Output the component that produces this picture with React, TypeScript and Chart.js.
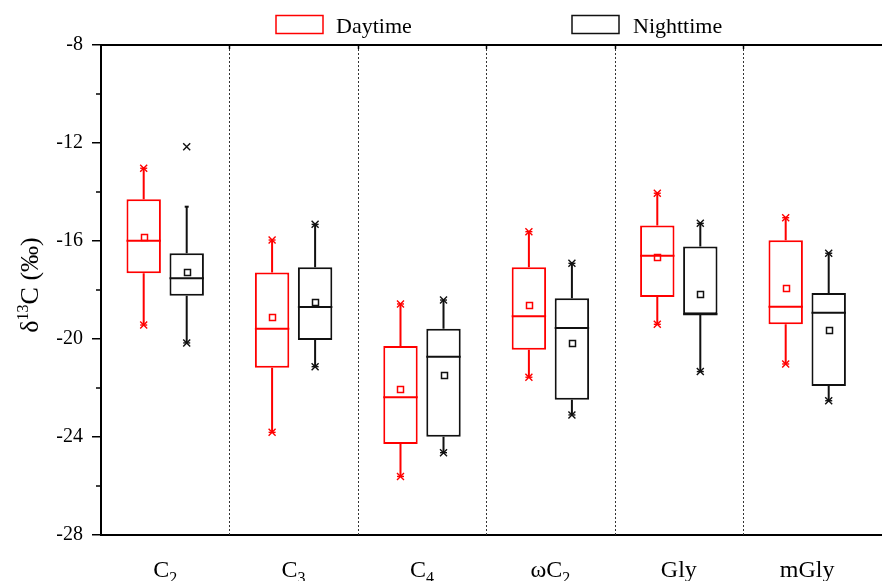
import React, { useEffect, useRef } from 'react';
import { Chart, registerables } from 'chart.js';

Chart.register(...registerables);

const categories = ['C₂', 'C₃', 'C₄', 'ωC₂', 'Gly', 'mGly'];

const dayQ1 = [-17.32, -21.17, -24.29, -20.44, -18.29, -19.4];
const dayMedian = [-15.99, -19.58, -22.38, -19.07, -16.6, -18.68];
const dayQ3 = [-14.3, -17.29, -20.29, -17.07, -15.37, -15.97];
const dayMean = [-15.82, -19.1, -22.04, -18.6, -16.67, -17.93];
const dayLow = [-19.43, -23.81, -25.61, -21.56, -19.4, -21.02];
const dayHigh = [-13.03, -15.96, -18.57, -15.62, -14.05, -15.05];
const dayOutlierHigh: (number | null)[] = [null, null, null, null, null, null];

const nightQ1 = [-18.23, -20.04, -23.99, -22.48, -18.99, -21.92];
const nightMedian = [-17.52, -18.69, -20.72, -19.55, -18.99, -18.93];
const nightQ3 = [-16.5, -17.07, -19.58, -18.34, -16.22, -18.12];
const nightMean = [-17.25, -18.5, -21.45, -20.16, -18.15, -19.62];
const nightLow = [-20.16, -21.13, -24.64, -23.1, -21.33, -22.52];
const nightHigh = [-14.6, -15.32, -18.41, -16.91, -15.28, -16.5];
const nightOutlierHigh: (number | null)[] = [-12.15, null, null, null, null, null];

const yMajorTicks = [-28, -24, -20, -16, -12, -8];
const yMinorTicks = [-26, -22, -18, -14, -10];

const FONT = '"Liberation Serif", "Times New Roman", serif';
const SUBS: Record<string, string> = { '₀': '0', '₁': '1', '₂': '2', '₃': '3', '₄': '4', '₅': '5', '₆': '6', '₇': '7', '₈': '8', '₉': '9' };

export default function App() {
  const ref = useRef<HTMLCanvasElement>(null);

  useEffect(() => {
    document.body.style.margin = '0';
    document.body.style.overflow = 'hidden';
    const canvas = ref.current;
    if (!canvas) return;

    const series = [
      { label: 'Daytime', color: '#ff0000', q1: dayQ1, q3: dayQ3, median: dayMedian, mean: dayMean, low: dayLow, high: dayHigh, outlierHigh: dayOutlierHigh },
      { label: 'Nighttime', color: '#111111', q1: nightQ1, q3: nightQ3, median: nightMedian, mean: nightMean, low: nightLow, high: nightHigh, outlierHigh: nightOutlierHigh },
    ];
    const positions = categories.map((_, i) => i + 1);
    const catWidthPx = 128.4;
    const canvasW = 900;
    const leftPx = 101;
    const xMax = 0.5 + (canvasW - leftPx) / catWidthPx;

    const drawX = (ctx: CanvasRenderingContext2D, x: number, y: number, h: number) => {
      ctx.beginPath();
      ctx.moveTo(x - h, y - h); ctx.lineTo(x + h, y + h);
      ctx.moveTo(x - h, y + h); ctx.lineTo(x + h, y - h);
      ctx.stroke();
    };
    const drawDash = (ctx: CanvasRenderingContext2D, x: number, y: number, h: number) => {
      ctx.beginPath();
      ctx.moveTo(x - h, y); ctx.lineTo(x + h, y);
      ctx.stroke();
    };

    const drawSubText = (ctx: CanvasRenderingContext2D, text: string, cx: number, baseline: number, size: number, subSize: number, subDrop: number) => {
      const parts: { t: string; sub: boolean }[] = [];
      for (const ch of text) {
        const sub = ch in SUBS;
        const t = sub ? SUBS[ch] : ch;
        const last = parts[parts.length - 1];
        if (last && last.sub === sub) last.t += t; else parts.push({ t, sub });
      }
      let total = 0;
      const widths = parts.map(p => {
        ctx.font = `${p.sub ? subSize : size}px ${FONT}`;
        const w = ctx.measureText(p.t).width;
        total += w;
        return w;
      });
      let x = cx - total / 2;
      ctx.textAlign = 'left';
      ctx.textBaseline = 'alphabetic';
      parts.forEach((p, k) => {
        ctx.font = `${p.sub ? subSize : size}px ${FONT}`;
        ctx.fillText(p.t, x, baseline + (p.sub ? subDrop : 0));
        x += widths[k];
      });
    };

    const extras = {
      id: 'boxExtras',
      beforeDatasetsDraw(chart: any) {
        const { ctx, chartArea, scales } = chart;
        const xs = scales.x;
        ctx.save();
        ctx.strokeStyle = '#333';
        ctx.lineWidth = 1;
        ctx.setLineDash([2, 2]);
        for (let k = 1; k < categories.length; k++) {
          const px = Math.round(xs.getPixelForValue(k + 0.5)) + 0.5;
          ctx.beginPath();
          ctx.moveTo(px, chartArea.top);
          ctx.lineTo(px, chartArea.bottom);
          ctx.stroke();
        }
        ctx.restore();
      },
      afterDatasetsDraw(chart: any) {
        const { ctx, chartArea, scales } = chart;
        const xs = scales.x;
        const ys = scales.y;
        ctx.save();
        // top frame
        ctx.strokeStyle = '#000';
        ctx.lineWidth = 2;
        ctx.beginPath();
        ctx.moveTo(chartArea.left - 1, chartArea.top);
        ctx.lineTo(chartArea.right, chartArea.top);
        ctx.stroke();
        ctx.lineWidth = 1.5;
        for (let k = 1; k < categories.length; k++) {
          const px = Math.round(xs.getPixelForValue(k + 0.5)) + 0.5;
          ctx.beginPath();
          ctx.moveTo(px, chartArea.top);
          ctx.lineTo(px, chartArea.top + 4);
          ctx.stroke();
        }
        // minor y ticks
        yMinorTicks.forEach(v => {
          const py = ys.getPixelForValue(v);
          ctx.beginPath();
          ctx.moveTo(chartArea.left - 5, py);
          ctx.lineTo(chartArea.left, py);
          ctx.stroke();
        });

        // box extras
        series.forEach((s, di) => {
          const meta = chart.getDatasetMeta(di);
          ctx.strokeStyle = s.color;
          meta.data.forEach((el: any, i: number) => {
            const x = el.x;
            const w = el.width;
            const yMed = ys.getPixelForValue(s.median[i]);
            const yQ1 = ys.getPixelForValue(s.q1[i]);
            const yQ3 = ys.getPixelForValue(s.q3[i]);
            const yLo = ys.getPixelForValue(s.low[i]);
            const yHi = ys.getPixelForValue(s.high[i]);
            ctx.lineWidth = 2;
            ctx.beginPath();
            ctx.moveTo(x - w / 2, yMed); ctx.lineTo(x + w / 2, yMed);
            ctx.moveTo(x, yQ3); ctx.lineTo(x, yHi);
            ctx.moveTo(x, yQ1); ctx.lineTo(x, yLo);
            ctx.stroke();
            // markers
            ctx.lineWidth = 1.4;
            drawX(ctx, x, yLo, 3.5);
            drawDash(ctx, x, yLo, 3.5);
            const out = s.outlierHigh[i];
            if (out == null) {
              drawX(ctx, x, yHi, 3.5);
              drawDash(ctx, x, yHi, 3.5);
            } else {
              ctx.lineWidth = 2;
              drawDash(ctx, x, yHi, 2);
              ctx.lineWidth = 1.4;
              drawX(ctx, x, ys.getPixelForValue(out), 3.5);
            }
            // mean
            ctx.lineWidth = 1.5;
            const yMean = ys.getPixelForValue(s.mean[i]);
            ctx.strokeRect(Math.round(x - 3) + 0.5, Math.round(yMean - 3) + 0.5, 6, 6);
          });
        });

        // x labels
        ctx.fillStyle = '#000';
        categories.forEach((c, i) => {
          const px = xs.getPixelForValue(positions[i]);
          drawSubText(ctx, c, px, 577, 24, 16, 6);
        });

        // y title
        ctx.save();
        ctx.translate(38, 285);
        ctx.rotate(-Math.PI / 2);
        const big = 26, small = 16;
        ctx.font = `${big}px ${FONT}`;
        const w1 = ctx.measureText('δ').width;
        const w3 = ctx.measureText('C (‰)').width;
        ctx.font = `${small}px ${FONT}`;
        const w2 = ctx.measureText('13').width;
        let tx = -(w1 + w2 + w3) / 2;
        ctx.textAlign = 'left';
        ctx.textBaseline = 'alphabetic';
        ctx.font = `${big}px ${FONT}`;
        ctx.fillText('δ', tx, 0); tx += w1;
        ctx.font = `${small}px ${FONT}`;
        ctx.fillText('13', tx, -10); tx += w2;
        ctx.font = `${big}px ${FONT}`;
        ctx.fillText('C (‰)', tx, 0);
        ctx.restore();

        // legend
        const legendPos = [{ rx: 276, tx: 336 }, { rx: 572, tx: 633 }];
        series.forEach((s, di) => {
          const p = legendPos[di];
          ctx.lineWidth = 1.5;
          ctx.strokeStyle = s.color;
          ctx.strokeRect(p.rx, 15.5, 47, 18);
          ctx.fillStyle = '#000';
          ctx.font = `22px ${FONT}`;
          ctx.textAlign = 'left';
          ctx.textBaseline = 'alphabetic';
          ctx.fillText(s.label, p.tx, 33);
        });
        ctx.restore();
      },
    };

    const chart = new Chart(canvas, {
      type: 'bar',
      data: {
        datasets: series.map(s => ({
          label: s.label,
          data: positions.map((x, i) => ({ x, y: [s.q1[i], s.q3[i]] })),
          backgroundColor: '#ffffff',
          borderColor: s.color,
          borderWidth: 2,
          borderSkipped: false,
          categoryPercentage: 0.67,
          barPercentage: 0.8,
        })) as any,
      },
      options: {
        responsive: false,
        animation: false,
        events: [],
        layout: { padding: { top: 45, right: 0, left: 0, bottom: 0 } },
        plugins: { legend: { display: false }, tooltip: { enabled: false } },
        scales: {
          x: {
            type: 'linear',
            min: 0.5,
            max: xMax,
            offset: false,
            afterBuildTicks: (s: any) => { s.ticks = positions.map(v => ({ value: v })); },
            ticks: { display: false },
            grid: { display: false, offset: false },
            border: { display: true, color: '#000', width: 2 },
            afterFit: (s: any) => { s.height = 46; },
          },
          y: {
            type: 'linear',
            min: -28,
            max: -8,
            afterBuildTicks: (s: any) => { s.ticks = yMajorTicks.map(v => ({ value: v })); },
            ticks: { padding: 9, color: '#000', font: { family: FONT, size: 20 } },
            grid: { drawOnChartArea: false, drawTicks: true, tickLength: 9, color: '#000', lineWidth: 1.5 },
            border: { display: true, color: '#000', width: 2 },
            afterFit: (s: any) => { s.width = 101; },
          },
        },
      } as any,
      plugins: [extras],
    });

    return () => chart.destroy();
  }, []);

  return (
    <div style={{ position: 'fixed', left: 0, top: 0, width: 882, height: 581, overflow: 'hidden', background: '#fff' }}>
      <canvas ref={ref} width={900} height={581} style={{ width: 900, height: 581, display: 'block' }} />
    </div>
  );
}
